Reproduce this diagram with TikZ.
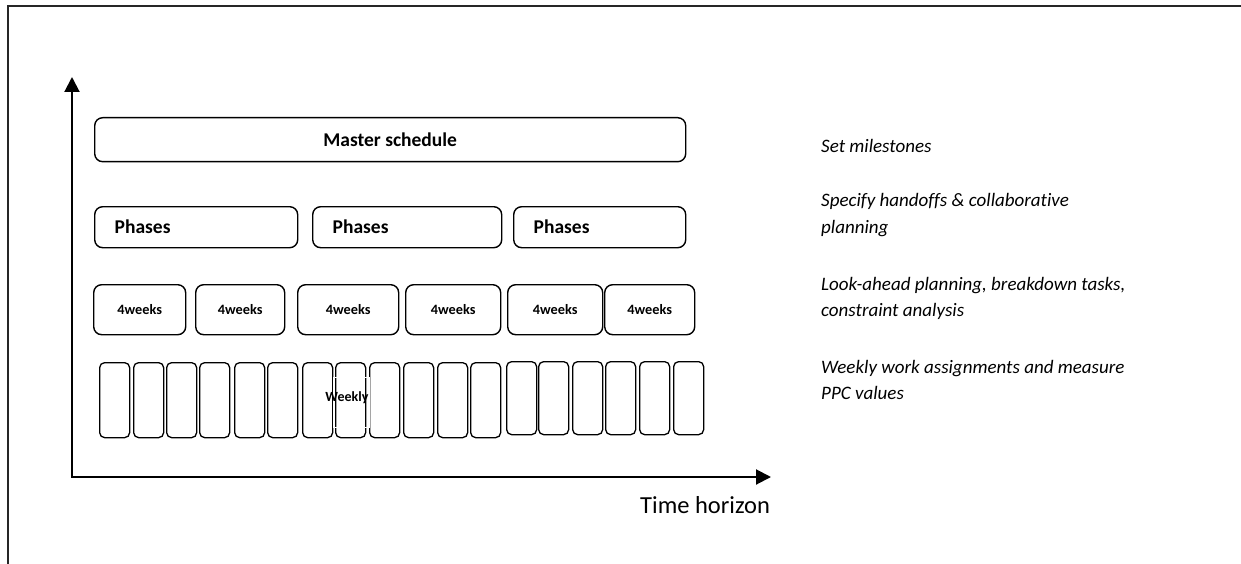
\documentclass[tikz,border=0pt]{standalone}
\usepackage{fontspec}
\setmainfont[Ligatures={NoCommon,NoRequired}]{Carlito}
\usetikzlibrary{arrows.meta}
\begin{document}
\begin{tikzpicture}[x=1pt,y=-1pt,
  frame/.style={draw=black!85, line width=1.4pt},
  axis/.style={draw=black, line width=2pt, line join=miter,
    {Triangle[length=15pt,width=15pt]}-{Triangle[length=15pt,width=15pt]}},
  lvlbox/.style={draw=black, line width=1.4pt, rounded corners=8pt,
    anchor=north west, inner sep=0pt,
    font=\fontsize{19.5}{23}\selectfont\bfseries},
  phasebox/.style={lvlbox, align=left, inner xsep=20pt, text width=#1,
    minimum height=41pt},
  lookbox/.style={lvlbox, font=\fontsize{14.3}{17}\selectfont\bfseries,
    minimum height=50pt},
  weekbox/.style={draw=black, line width=1.3pt, rounded corners=5pt,
    anchor=north west, inner sep=0pt, minimum width=30pt, minimum height=#1},
  weeklbl/.style={inner sep=0pt, font=\fontsize{14}{17}\selectfont\bfseries},
  note/.style={anchor=base west, inner sep=0pt,
    font=\fontsize{19}{26.5}\selectfont\itshape},
]
\useasboundingbox (0,0) rectangle (1241,564);

% page frame
\draw[frame] (8,564) -- (8,6) -- (1241,6);

% axes
\coordinate (origin) at (72,477);
\coordinate (ytip) at (72,77);
\coordinate (xtip) at (771,477);
\draw[axis] (ytip) -- (origin) -- (xtip);
\node[anchor=base west, inner sep=0pt, font=\fontsize{24.5}{29}\selectfont]
  (xlabel) at (640,513) {Time horizon};

% level 1: master schedule
\node[lvlbox, minimum width=591pt, minimum height=44pt] (master) at (94,117)
  {Master schedule};

% level 2: phases
\node[phasebox=163pt] (ph1) at (94,206) {Phases};
\node[phasebox=149pt] (ph2) at (312,206) {Phases};
\node[phasebox=132pt] (ph3) at (513,206) {Phases};

% level 3: look-ahead windows
\foreach \i/\l/\r in {1/93/185,2/195/284,3/297/398,4/405/500,5/507/602,6/604/694}{
  \pgfmathsetmacro\w{\r-\l}
  \node[lookbox, minimum width=\w pt] (la\i) at (\l,284) {4weeks};
}

% level 4: weekly plans
\foreach \i/\l in {1/99,2/133,3/166,4/199,5/234,6/267,7/302,8/335,9/369,10/403,11/437,12/470}{
  \node[weekbox=75pt] (wk\i) at (\l,362) {};
}
\foreach \i/\l in {13/506,14/538,15/572,16/605,17/639,18/673}{
  \node[weekbox=73pt] (wk\i) at (\l,361) {};
}
\draw[white, line width=0.7pt] (333,377) rectangle (369,427);
\node[weeklbl] (weeklbl) at (347,398) {Weekly};

% descriptions
\node[note] (n1) at (821,153) {Set milestones};
\node[note] (n2) at (821,207)
  {\begin{tabular}[t]{@{}l@{}}Specify handoffs \& collaborative\\planning\end{tabular}};
\node[note] (n3) at (821,290)
  {\begin{tabular}[t]{@{}l@{}}Look-ahead planning, breakdown tasks,\\constraint analysis\end{tabular}};
\node[note] (n4) at (821,373)
  {\begin{tabular}[t]{@{}l@{}}Weekly work assignments and measure\\PPC values\end{tabular}};
\end{tikzpicture}
\end{document}
